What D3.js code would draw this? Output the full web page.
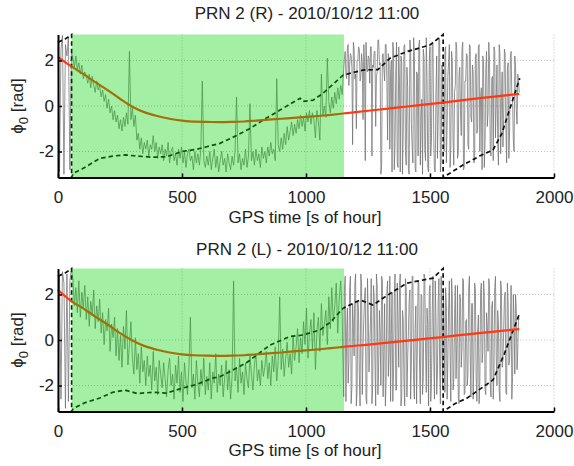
<!DOCTYPE html>
<html>
<head>
<meta charset="utf-8">
<script src="https://cdn.jsdelivr.net/npm/d3@7"></script>
<style>
  body { margin: 0; background: #fff; }
  text { font-family: "Liberation Sans", Arial, Helvetica, sans-serif; fill: #222; }
</style>
</head>
<body>
<div class="chart"></div>
<script>
// phase samples, one every noiseStep seconds from t = 0
var noiseStep = 6;

var noiseR = [
  2.9,-2.9,2.5,3.1,-3.0,2.7,2.2,3.0,-2.8,2.4,
  2.1,1.7,2.2,1.6,1.9,1.4,1.8,1.2,1.5,1.3,
  1.0,1.4,0.8,1.3,0.9,0.6,1.1,0.7,0.9,0.4,
  0.7,0.2,0.5,-0.1,0.3,-0.3,0.0,-0.6,-0.2,-0.7,
  -0.4,-1.0,-0.6,-1.1,-0.5,-0.9,-0.3,-0.8,2.4,-0.6,
  -0.1,-0.9,-0.4,-1.5,-1.2,-1.9,-1.4,-2.1,-1.6,-1.9,
  -1.5,-2.2,-1.7,-1.9,-1.3,-2.0,-1.6,-2.3,-1.8,-2.1,
  -1.7,-2.4,-1.9,-2.2,-1.6,-2.5,-2.0,-1.8,-2.4,-2.1,
  -2.6,-1.9,-2.3,-1.8,-2.5,-2.0,-2.7,-2.1,-1.9,-2.4,
  -2.2,-2.8,-2.0,-2.5,-2.1,-2.6,-1.9,1.1,-2.4,-2.7,
  -2.2,-2.6,-2.0,-2.8,-2.3,-1.9,-2.7,-2.2,-2.9,-2.4,
  -2.0,-2.6,-2.3,-2.9,-2.1,-2.5,-2.8,-2.2,-2.6,-2.0,
  0.4,-2.5,-2.1,-2.8,-2.3,-2.6,-1.9,-2.7,-2.2,0.1,
  -2.4,-2.0,-2.6,-1.9,-2.4,-2.1,-2.7,-1.8,-2.3,-2.0,
  -2.5,-1.8,-2.2,-1.6,-2.1,-1.9,-2.4,1.2,-1.7,-2.0,
  -1.4,-1.9,-1.2,-1.7,-0.9,-1.5,-1.1,-0.7,-1.3,-0.8,
  -1.2,-0.6,-1.0,-0.4,-0.9,-0.5,-1.1,-0.3,-0.7,-0.2,
  -0.8,-0.3,-0.6,-1.4,-0.2,-0.7,-1.5,1.4,-0.4,0.0,
  -0.5,2.1,0.2,-0.3,0.4,-0.1,0.6,0.1,0.8,0.3,
  0.9,0.5,
  1.6,2.4,1.2,2.7,1.8,2.2,-1.7,2.5,
  1.4,2.0,2.6,1.1,2.3,-0.6,1.9,2.8,1.5,2.1,
  2.6,-2.2,1.7,2.4,1.3,2.9,1.8,-3.0,2.2,1.6,
  2.7,1.2,2.3,-1.9,2.0,2.8,-2.8,1.4,-2.5,2.6,
  -2.9,1.9,-1.2,2.7,-2.6,0.8,-3.0,2.4,-1.8,3.0,
  -2.7,1.5,-2.2,2.9,-0.4,-3.0,2.1,-2.4,1.2,-2.9,
  2.6,-1.5,2.8,-2.8,0.6,-2.3,3.0,-2.9,1.8,-1.1,
  2.4,-2.5,1.3,2.7,-1.8,2.0,-2.6,0.9,2.5,-2.1,
  1.7,-1.3,2.8,-2.7,1.1,2.2,-1.9,2.6,-0.7,1.5,
  -2.4,2.3,-1.0,2.7,0.4,-2.8,1.9,-1.6,2.4,-0.3,
  2.0,-2.2,1.3,2.6,-1.4,1.8,-2.6,2.3,0.2,-1.8,
  2.5,-0.9,1.6,-2.3,2.1,0.5,-1.5,2.2,-0.2,1.4,0.6
];

// extra samples in the noisy tail, one every noiseStep seconds from t = tailStart
var tailStart = 1155;
var tailR = [
  2.1,1.4,2.6,0.9,2.3,1.7,2.8,1.2,-1.0,2.0,
  2.5,1.3,1.9,2.7,-2.4,1.6,2.2,1.0,2.6,1.8,
  2.4,-0.9,1.5,2.9,1.9,-2.6,2.3,1.1,2.7,-1.5,
  2.0,1.4,-2.9,2.5,-1.6,2.8,-2.7,1.0,2.2,-3.0,
  2.6,-2.0,1.7,-2.8,2.9,-0.8,-2.5,2.3,-2.9,1.4,
  2.7,-2.6,0.3,2.5,-1.9,3.0,-2.7,1.9,-2.2,2.8,
  -1.3,-2.9,2.2,-0.6,2.9,-2.4,1.6,-2.0,2.6,-0.8,
  1.9,-2.7,2.4,-1.5,0.6,2.8,-2.3,1.4,-0.2,2.5,
  -2.8,1.1,2.3,-1.7,2.7,-0.5,1.8,-2.5,2.1,-1.2,
  2.6,-2.0,0.8,2.2,-2.7,1.6,-0.9,2.8,-1.9,1.2,
  -2.4,2.4,0.1,-1.6,2.7,-2.1,1.5,-0.6,2.3,-2.5,
  1.9,-1.1,2.4,0.3,-2.0,1.7,-0.8,1.1
];

var noiseL = [
  -2.9,2.8,-2.6,3.0,2.5,-3.0,2.9,-2.7,2.6,3.1,
  2.7,1.5,2.3,1.2,2.6,1.0,2.1,1.4,2.4,0.9,
  1.9,0.6,1.7,1.1,2.2,0.5,1.5,0.8,1.8,0.3,
  1.2,-0.2,0.9,0.4,1.4,-0.5,0.7,0.1,1.0,-0.7,
  0.5,-0.9,0.2,-1.2,0.6,-0.4,1.3,-1.1,-0.2,0.8,
  -0.8,-1.5,0.1,-1.3,-0.6,-1.9,-0.3,-1.4,-0.9,-2.0,
  -0.7,-1.6,-1.1,-2.2,-0.5,-1.8,-1.2,-2.4,-0.9,-1.5,
  -2.1,-1.0,-1.7,-2.5,-1.3,-0.8,-2.0,-1.5,-2.6,-1.1,
  -1.9,-0.7,-2.3,-1.4,-2.7,-1.0,-1.8,-2.4,-1.2,1.0,
  -2.1,-1.5,-2.6,-0.9,-1.9,-2.5,-1.3,-2.0,-0.8,-2.4,
  -1.6,-2.2,-1.0,-2.6,-1.4,-1.9,-0.6,-2.3,-1.5,-2.0,
  -1.1,-2.5,-1.7,-0.9,-2.2,-1.3,-2.6,-1.6,2.6,-1.8,
  -1.2,-2.3,-0.8,-1.9,-1.4,-2.4,-1.0,-1.7,-2.1,-0.7,
  -1.5,-2.2,-1.1,-0.6,-1.8,-1.3,-2.0,-0.9,-1.6,-1.2,
  -0.5,-1.7,-1.0,-2.0,-0.7,-1.4,-0.3,-1.8,-0.9,1.9,
  -1.3,-0.4,-1.6,-0.8,-0.1,-1.2,-0.6,-1.5,0.2,-0.9,
  -0.3,0.5,-1.0,0.1,-0.6,0.8,-0.2,1.4,-0.8,0.3,
  0.9,-0.4,1.2,-1.3,0.4,1.0,-0.5,1.6,0.2,0.7,
  1.3,-0.2,1.9,0.5,2.3,0.8,1.5,2.5,0.3,1.8,
  2.6,1.0,
  -2.5,2.8,0.4,-1.9,2.3,-2.8,1.6,-0.7,
  2.9,-2.2,1.1,-2.9,2.5,-0.3,1.8,-2.6,2.7,-1.4,
  0.8,-2.8,2.4,-1.0,2.9,-2.4,1.3,-2.0,2.6,-0.5,
  -2.9,2.1,-1.6,2.8,0.2,-2.7,1.9,-2.2,2.5,-1.2,
  2.9,-2.5,0.9,-2.9,2.3,-0.8,1.7,-2.6,2.8,-1.8,
  0.5,-2.8,2.6,-1.3,2.0,-2.4,2.9,-0.4,1.4,-2.9,
  2.4,-1.9,2.8,-2.6,1.0,-1.5,2.7,-2.8,0.6,2.2,
  -2.3,1.5,-0.9,2.6,-2.7,1.9,-1.7,2.4,-0.2,-2.5,
  2.0,-1.2,2.7,-2.4,0.8,-2.0,2.3,-0.6,1.6,-2.6,
  2.5,-1.6,0.3,-2.8,2.1,-1.0,2.6,-2.2,1.2,-0.5,
  2.4,-2.5,1.7,-1.4,2.8,-2.0,0.7,-2.7,2.2,-0.9,
  1.8,-2.3,2.5,-1.1,0.4,-2.6,2.0,-1.5,1.3,-0.4,0.9
];

var tailL = [
  2.2,-2.7,1.4,-0.9,2.8,-2.1,0.6,2.5,-2.9,1.7,
  -1.5,2.9,-2.4,0.9,2.3,-2.8,1.2,-0.4,2.7,-2.0,
  1.9,-2.9,2.4,-1.1,0.3,2.8,-2.5,1.6,-1.9,2.6,
  -0.6,-2.7,2.1,-1.4,2.9,-2.2,0.8,2.4,-2.9,1.3,
  -1.8,2.7,-2.5,0.4,2.2,-1.0,2.8,-2.6,1.5,-0.3,
  2.5,-2.8,1.9,-1.6,2.7,-2.3,0.7,2.1,-2.7,1.2,
  -0.8,2.6,-2.4,1.7,-1.3,2.8,-2.1,0.5,2.3,-2.6,
  1.4,-0.6,2.7,-2.2,1.0,-1.7,2.4,-2.8,1.8,-0.4,
  2.6,-2.3,0.9,-1.5,2.8,-2.5,1.6,-0.9,2.2,-2.7,
  1.1,-1.8,2.5,-0.5,2.0,-2.4,0.6,2.7,-2.0,1.5,
  -2.6,2.3,-0.7,1.3,-2.2,2.6,-1.2,0.4,2.1,-2.4,
  1.7,-0.9,2.4,-1.6,0.8,2.0,-1.3,1.0
];

// fitted phase (red)
var fitT = [0,55,100,150,200,250,300,350,400,450,500,550,600,650,700,750,800,850,900,950,1000,1050,1100,1150,1250,1350,1450,1550,1650,1750,1860];
var fitR = [2.15,1.73,1.42,1.05,0.7,0.32,-0.03,-0.28,-0.44,-0.56,-0.64,-0.69,-0.7,-0.71,-0.7,-0.68,-0.64,-0.6,-0.56,-0.52,-0.48,-0.44,-0.39,-0.33,-0.21,-0.09,0.03,0.15,0.28,0.4,0.53];
var fitL = [2.2,1.7,1.4,1.03,0.68,0.3,-0.02,-0.27,-0.43,-0.55,-0.63,-0.67,-0.69,-0.7,-0.69,-0.67,-0.63,-0.59,-0.55,-0.5,-0.46,-0.41,-0.36,-0.3,-0.2,-0.09,0.02,0.13,0.25,0.36,0.48];

// wrapped reference phase (black dashed)
var wrapTR = [0,30,55,55,62,100,169,220,270,320,380,438,500,560,600,653,720,780,827,895,976,988,1029,1070,1150,1230,1290,1339,1407,1500,1553,1553,1633,1700,1754,1790,1830,1862];
var wrapR = [2.8,2.95,3.14,-3.14,-2.95,-2.75,-2.3,-2.2,-2.15,-2.2,-2.25,-2.23,-2.0,-1.9,-1.79,-1.64,-1.3,-0.95,-0.62,-0.18,0.34,0.2,0.26,0.57,1.36,1.58,1.6,2.1,2.39,2.68,3.14,-3.14,-2.59,-2.2,-1.93,-1.2,0.15,1.22];
var wrapTL = [0,30,55,55,62,110,169,220,270,320,380,438,500,560,625,653,700,760,855,935,988,1056,1100,1150,1218,1270,1350,1407,1512,1553,1553,1600,1650,1754,1800,1862];
var wrapL = [2.8,2.95,3.14,-3.14,-3.0,-2.75,-2.55,-2.3,-2.2,-2.35,-2.3,-2.33,-2.12,-1.95,-1.67,-1.61,-1.35,-1.0,-0.22,0.15,0.22,0.44,0.8,1.4,1.76,1.54,2.12,2.5,2.72,3.14,-3.14,-2.8,-2.55,-1.76,-0.6,1.19];

var greenSpan = [55, 1153];
var xTicks = [0, 500, 1000, 1500, 2000];
var yTicks = [-2, 0, 2];
var titles = ["PRN 2 (R) - 2010/10/12 11:00", "PRN 2 (L) - 2010/10/12 11:00"];

(function() {
  'use strict';

  var width = 574;
  var height = 466;

  var svg = d3.select(".chart").append("svg")
    .attr("width", width)
    .attr("height", height);

  var x = d3.scaleLinear().domain([0, 2000]).range([58, 554]);

  var panels = [
    { top: 34.5, bottom: 177.5, title: titles[0], noise: noiseR, tail: tailR, fit: fitR, wt: wrapTR, wv: wrapR, titleY: 19, labelY: 223 },
    { top: 268.5, bottom: 411.5, title: titles[1], noise: noiseL, tail: tailL, fit: fitL, wt: wrapTL, wv: wrapL, titleY: 255, labelY: 456 }
  ];

  panels.forEach(function(p) {
    var y = d3.scaleLinear().domain([-Math.PI, Math.PI]).range([p.bottom, p.top]);
    var g = svg.append("g");

    // dotted grid
    g.selectAll(".vgrid")
      .data(xTicks.slice(1))
      .enter().append("line")
      .attr("x1", function(d) { return x(d); })
      .attr("x2", function(d) { return x(d); })
      .attr("y1", p.top)
      .attr("y2", p.bottom)
      .attr("stroke", "#aaa")
      .attr("stroke-width", 0.8)
      .attr("stroke-dasharray", "1,2");

    g.selectAll(".hgrid")
      .data(yTicks)
      .enter().append("line")
      .attr("x1", x(0))
      .attr("x2", x(2000))
      .attr("y1", function(d) { return y(d); })
      .attr("y2", function(d) { return y(d); })
      .attr("stroke", "#aaa")
      .attr("stroke-width", 0.8)
      .attr("stroke-dasharray", "1,2");

    var line = d3.line()
      .x(function(d) { return x(d[0]); })
      .y(function(d) { return y(d[1]); });

    var pts = p.noise.map(function(v, i) { return [i * noiseStep, v]; })
      .concat(p.tail.map(function(v, i) { return [tailStart + i * noiseStep, v]; }))
      .sort(function(a, b) { return a[0] - b[0]; });

    g.append("path")
      .datum(pts)
      .attr("d", line)
      .attr("fill", "none")
      .attr("stroke", "#707070")
      .attr("stroke-opacity", 0.75)
      .attr("stroke-width", 1);

    g.append("path")
      .datum(p.wt.map(function(t, i) { return [t, p.wv[i]]; }))
      .attr("d", line)
      .attr("fill", "none")
      .attr("stroke", "#111")
      .attr("stroke-width", 1.7)
      .attr("stroke-dasharray", "4.5,3");

    g.append("path")
      .datum(fitT.map(function(t, i) { return [t, p.fit[i]]; }))
      .attr("d", d3.line().curve(d3.curveMonotoneX)
        .x(function(d) { return x(d[0]); })
        .y(function(d) { return y(d[1]); }))
      .attr("fill", "none")
      .attr("stroke", "#ff3810")
      .attr("stroke-width", 2.2);

    // green overlay over the chosen interval
    g.append("rect")
      .attr("x", x(greenSpan[0]))
      .attr("y", p.top)
      .attr("width", x(greenSpan[1]) - x(greenSpan[0]))
      .attr("height", p.bottom - p.top)
      .attr("fill", "#00d200")
      .attr("fill-opacity", 0.36);

    var fmt = function(d) { return String(d); };

    var xAxis = g.append("g")
      .attr("transform", "translate(0," + p.bottom + ")")
      .call(d3.axisBottom(x).tickValues(xTicks).tickFormat(fmt)
        .tickSizeInner(-4).tickSizeOuter(0).tickPadding(13));

    var yAxis = g.append("g")
      .attr("transform", "translate(" + x(0) + ",0)")
      .call(d3.axisLeft(y).tickValues(yTicks).tickFormat(fmt)
        .tickSizeInner(-4).tickSizeOuter(0).tickPadding(4));

    [xAxis, yAxis].forEach(function(a) {
      a.select(".domain").attr("stroke", "#000").attr("stroke-width", 2);
      a.selectAll(".tick line").attr("stroke", "#000").attr("stroke-width", 1.5);
      a.selectAll(".tick text")
        .attr("font-size", 17)
        .attr("font-family", "Liberation Sans, Arial, sans-serif")
        .attr("fill", "#222");
    });

    g.append("text")
      .attr("x", 307)
      .attr("y", p.titleY)
      .attr("text-anchor", "middle")
      .attr("font-size", 17)
      .text(p.title);

    g.append("text")
      .attr("x", 305)
      .attr("y", p.labelY)
      .attr("text-anchor", "middle")
      .attr("font-size", 17)
      .text("GPS time [s of hour]");

    var yl = g.append("text")
      .attr("transform", "translate(23," + ((p.top + p.bottom) / 2) + ") rotate(-90)")
      .attr("text-anchor", "middle")
      .attr("font-size", 17);
    yl.append("tspan").text("\u03d5");
    yl.append("tspan").attr("font-size", 13).attr("dy", 5).text("0");
    yl.append("tspan").attr("dy", -5).text(" [rad]");
  });

})();
</script>
</body>
</html>
